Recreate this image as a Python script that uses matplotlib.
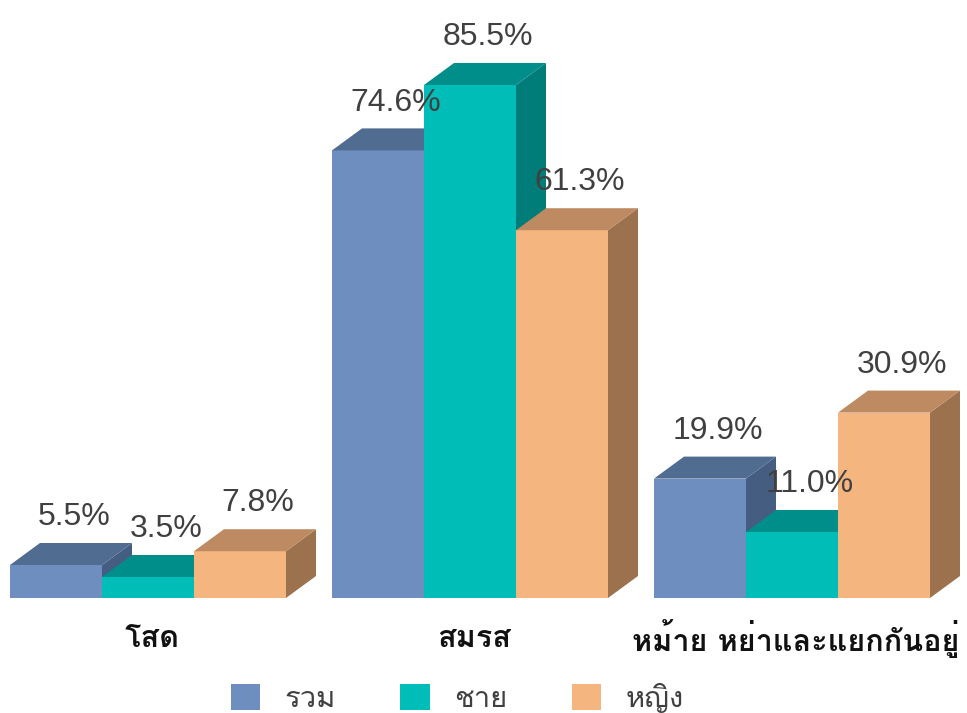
import matplotlib
matplotlib.use('Agg')
import matplotlib.pyplot as plt
from matplotlib.patches import Polygon, Patch

# data
categories = ['โสด', 'สมรส', 'หม้าย หย่าและแยกกันอยู่']
series = ['รวม', 'ชาย', 'หญิง']
total = [5.5, 74.6, 19.9]
male = [3.5, 85.5, 11.0]
female = [7.8, 61.3, 30.9]

# colours: front, top, side
front = ['#6D8EBE', '#00BDB8', '#F5B57F']
top = ['#506C91', '#008E8A', '#BD8A62']
side = ['#465D82', '#007D79', '#9C714E']

thai = ['Loma', 'Noto Sans Thai Looped', 'DejaVu Sans']

fig = plt.figure(figsize=(9.67, 7.13), dpi=100)
ax = fig.add_axes([0, 0, 1, 1])
ax.set_xlim(-10 / 92, 957 / 92)
ax.set_ylim(-115 / 6, 598 / 6)
ax.axis('off')

dx = 30 / 92   # depth offset in bar widths
dy = 22 / 6    # depth offset in percent
group_step = 3.5

for g, cat in enumerate(categories):
    vals = [total[g], male[g], female[g]]
    for i, v in enumerate(vals):
        x = g * group_step + i
        ax.add_patch(Polygon([(x, 0), (x + 1, 0), (x + 1, v), (x, v)],
                             closed=True, fc=front[i], ec='none'))
        ax.add_patch(Polygon([(x + 1, 0), (x + 1 + dx, dy), (x + 1 + dx, v + dy), (x + 1, v)],
                             closed=True, fc=side[i], ec='none'))
        ax.add_patch(Polygon([(x, v), (x + 1, v), (x + 1 + dx, v + dy), (x + dx, v + dy)],
                             closed=True, fc=top[i], ec='none'))
        ax.text(x + 0.5 + dx * 0.6, v + dy + 4.3, f'{v:.1f}%', ha='center', va='center',
                fontsize=23, color='#404040', family=['Liberation Sans', 'DejaVu Sans'])
    ax.text(g * group_step + 1.5 + dx * 0.13, -6.8, cat, ha='center', va='center',
            fontsize=22, fontweight='bold', color='#111111', family=thai)

handles = [Patch(fc=c, ec='none') for c in front]
leg = fig.legend(handles, series, loc='center', bbox_to_anchor=(0.473, 0.021),
                 ncol=3, frameon=False, handlelength=1.0, handleheight=1.0,
                 handletextpad=0.85, columnspacing=2.2,
                 prop={'family': thai, 'size': 21})
for t in leg.get_texts():
    t.set_color('#404040')

fig.savefig('out.png', dpi=100)
